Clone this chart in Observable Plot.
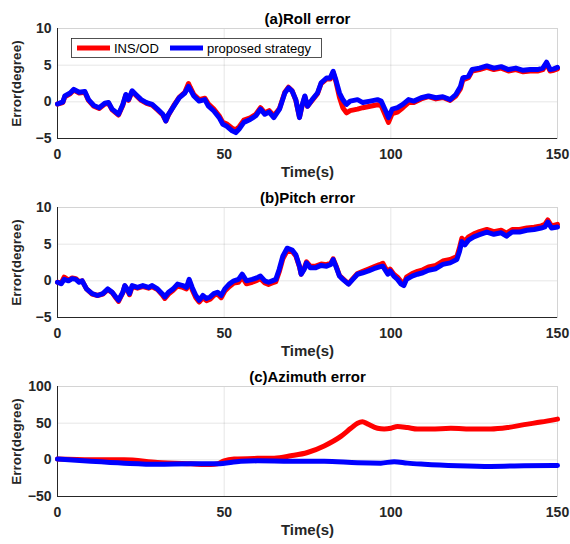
<!DOCTYPE html>
<html><head><meta charset="utf-8">
<script src="https://cdn.jsdelivr.net/npm/d3@7"></script>
<script src="https://cdn.jsdelivr.net/npm/@observablehq/plot@0.6"></script>
<style>
body{margin:0;background:#fff;}
#chart svg{display:block;}
</style>
</head><body><div id="chart"></div>
<script>
// ---------- data ----------
const xTicks = [0, 50, 100, 150];
const attTicks = [-5, 0, 5, 10];
const aziTicks = [-50, 0, 50, 100];
const seriesNames = ["INS/OD", "proposed strategy"];
const titles = ["(a)Roll error", "(b)Pitch error", "(c)Azimuth error"];

const rollTime = [0,1.6,2.2,3.8,4.9,6.5,8.2,9.3,10.9,12.5,
  14.2,15.3,16.4,18.3,19.6,20.5,21.3,22.4,23.5,25.1,
  26.7,28.4,30,31.6,32.5,33.3,34.9,36.5,38.2,39.3,
  39.8,40.9,42.5,44.2,45.3,46.9,48.5,49.6,50.7,52.4,
  53.5,54.5,55.9,57.8,59.5,60.9,62.2,63.5,64.9,66.6,
  68.2,69.3,70.4,71.5,72.6,73.3,74.2,75,76.4,78,
  79.1,80.7,81.8,82.7,83.5,84.6,85.6,86.7,87.8,90,
  91.6,93.8,96,97.1,98.7,99.3,100.4,102,103.6,105.3,
  106.9,109.1,111.3,113.5,115.6,117.8,119.5,120.9,121.6,123.3,
  124.4,126.6,128.8,130.9,133.1,135.3,137.5,139.7,141.8,144,
  145.6,146.7,147.8,148.9,150];
const rollInsOd = [-0.3,-0.1,0.7,1.1,1.6,1.2,1.3,0.2,-0.6,-0.9,
  -0.3,-0.2,-1.1,-1.8,-0.45,0.9,0.2,1.4,0.9,0.2,
  -0.2,-0.45,-1.1,-1.8,-2.6,-1.8,-0.5,0.6,1.3,2.5,
  2.0,1.0,0.3,0.5,-0.3,-1.0,-1.9,-2.8,-3.0,-3.6,
  -3.8,-3.4,-2.5,-2.2,-1.7,-0.8,-1.5,-1.2,-1.9,-0.9,
  1.3,2.0,1.5,0.2,-2.1,-0.7,0.7,-0.6,0.2,1.1,
  2.5,3.1,3.1,4.0,2.8,0.6,-0.8,-1.5,-1.2,-1.0,
  -0.8,-0.6,-0.4,-0.5,-2.2,-2.8,-1.6,-1.4,-0.8,-0.1,
  -0.1,0.4,0.7,0.4,0.6,0.2,0.8,1.8,3.0,3.3,
  4.2,4.4,4.7,4.4,4.6,4.2,4.4,4.1,4.2,4.2,
  4.4,5.2,4.2,4.3,4.5];
const rollProposed = [-0.3,0,0.8,1.2,1.7,1.3,1.4,0.3,-0.5,-0.8,
  -0.2,-0.1,-1.0,-1.7,-0.35,1.0,0.3,1.5,1.0,0.3,
  -0.1,-0.35,-1.0,-1.7,-2.6,-1.7,-0.6,0.55,1.2,2.1,
  1.7,0.8,0.1,0.3,-0.6,-1.25,-2.15,-3.05,-3.3,-3.95,
  -4.2,-3.7,-2.8,-2.4,-1.9,-1.0,-1.7,-1.4,-2.15,-1.0,
  1.2,1.9,1.45,0.3,-2.15,-0.6,0.8,-0.6,0.3,1.2,
  2.6,3.25,3.25,4.15,3.0,1.2,0.3,-0.35,0.1,0.3,
  -0.1,0.1,0.3,0.1,-1.5,-2.15,-1.0,-0.8,-0.35,0.3,
  0.1,0.55,0.8,0.55,0.7,0.3,1.0,2.1,3.25,3.5,
  4.4,4.6,4.9,4.6,4.8,4.4,4.6,4.3,4.4,4.4,
  4.6,5.4,4.4,4.5,4.7];

const pitchTime = [0,1.1,2,3.3,4.4,5.5,6.5,7.4,8.7,10.4,
  12,13.6,15.1,16.4,17.5,18.3,19.6,20.2,20.9,21.6,
  22.4,24,25.6,27.3,28.4,30,31.4,32.2,33.3,34.7,
  36,37.6,38.7,39.5,40.4,41.5,42.5,43.6,44.7,45.8,
  46.9,48,49.1,50.2,51.5,52.9,54.3,55.4,56.7,58.4,
  60,60.9,62.2,63.3,64.4,65.5,66.5,67.6,68.9,70.4,
  71.5,72.6,73.1,74,74.7,75.8,77.5,79.1,80.7,82,
  82.7,83.5,84.6,85.6,87.3,88.6,90,91.6,93.3,94.9,
  96.6,97.6,98.2,99.1,99.8,100.9,102,103.1,103.9,104.7,
  106.4,108,109.6,111.3,113.5,115.6,117.8,119.8,120.6,121.3,
  122.2,123.3,124.9,126.6,128.8,130.9,133.1,134.7,136.4,138.6,
  140.8,143,145.1,146.2,147.1,148.2,150];
const pitchInsOd = [-0.2,-0.3,0.5,0.1,0.4,0.3,-0.1,0,-1.1,-1.8,
  -2.0,-1.8,-1.2,-1.6,-2.3,-2.8,-1.6,-0.7,-1.2,-1.9,
  -0.8,-1.0,-0.8,-1.0,-0.8,-1.2,-1.9,-2.4,-1.8,-1.3,
  -0.7,-0.9,-1.1,0.0,-1.2,-2.3,-2.9,-2.3,-2.7,-2.5,
  -2.0,-1.8,-2.3,-1.4,-0.8,-0.3,-0.2,0.5,-0.4,-0.2,
  0.1,0.3,-0.3,-0.5,-0.3,-0.1,1.2,3.0,4.1,4.0,
  3.4,1.9,0.9,1.7,2.6,2.0,2.0,2.3,2.2,2.4,
  3.0,2.1,0.7,0.3,-0.4,0.3,1.0,1.3,1.6,1.9,
  2.2,2.4,1.9,1.2,1.6,0.9,0.5,-0.1,-0.4,0.5,
  1.0,1.3,1.5,1.9,2.1,2.7,2.9,3.3,4.5,5.8,
  5.4,6.0,6.4,6.7,7.0,6.7,6.9,6.5,7.0,7.0,
  7.2,7.3,7.5,7.7,8.3,7.5,7.7];
const pitchProposed = [-0.2,-0.4,0.2,0,0.3,0.2,-0.2,0,-1.1,-1.75,
  -2.0,-1.75,-1.1,-1.55,-2.2,-2.65,-1.55,-0.65,-1.1,-1.75,
  -0.65,-0.9,-0.65,-0.9,-0.65,-1.1,-1.75,-2.2,-1.55,-1.1,
  -0.45,-0.65,-0.9,0.2,-0.9,-2.0,-2.65,-2.0,-2.4,-2.2,
  -1.75,-1.55,-2.0,-1.1,-0.45,0,0.2,0.9,0,0.2,
  0.45,0.65,0,-0.2,0,0.2,1.55,3.35,4.45,4.2,
  3.55,2.0,0.9,1.55,2.45,1.8,1.8,2.1,2.0,2.25,
  2.9,2.0,0.65,0.2,-0.45,0.2,0.9,1.1,1.35,1.65,
  1.9,2.0,1.55,0.9,1.35,0.65,0.2,-0.45,-0.65,0.2,
  0.65,0.9,1.1,1.45,1.65,2.25,2.45,2.9,4.0,5.35,
  4.9,5.55,6.0,6.3,6.65,6.35,6.55,6.1,6.65,6.65,
  6.9,7.0,7.2,7.35,8.0,7.2,7.35];

const aziTimeInsOd = [0,10,20,30,40,46,48,50,53,60,65,70,75,80,85,88,90,91.5,93,96,98,100,102,105,108,112,118,125,130,135,140,145,150];
const aziInsOd = [1,0,0,-3.6,-5.5,-6.5,-5.5,-1.4,1,2,2.3,5.5,10,19,32,43,50,52,49,43,42,43,45.5,44,42,42,43,42,42,44,48,51.5,55.5];
const aziTimeProposed = [0,10,20,30,40,48,55,60,70,80,90,97,101,105,110,120,130,140,150];
const aziProposed = [1,-2,-4.5,-6,-5.5,-5.5,-2,-1.4,-2,-2,-4,-4.5,-2.5,-4.5,-6,-8,-9,-8,-7.7];

// ---------- chart ----------
const FONT = "'Liberation Sans', Arial, Helvetica, sans-serif";
const INK = "#262626";
const RED = "#ff0000", BLUE = "#0000ff";

function toRows(ts, vs) { return ts.map((t, i) => ({t, v: vs[i]})); }

function panel({title, yDomain, yTicks, red, blue, height, curve}) {
  return Plot.plot({
    width: 570, height,
    marginLeft: 57, marginRight: 13, marginTop: 28, marginBottom: height - 28 - 110,
    style: {fontFamily: FONT, fontWeight: "bold", background: "#fff", color: INK, overflow: "visible"},
    x: {domain: [0, 150]},
    y: {domain: yDomain},
    marks: [
      Plot.gridX(xTicks, {stroke: "#000", strokeOpacity: 0.1}),
      Plot.gridY(yTicks, {stroke: "#000", strokeOpacity: 0.1}),
      Plot.frame({stroke: "#d4d4d4"}),
      Plot.ruleX([0], {stroke: INK, strokeWidth: 1}),
      Plot.ruleY([yDomain[0]], {stroke: INK, strokeWidth: 1}),
      Plot.axisX(xTicks, {tickSize: 0, tickPadding: 11, label: null, fontSize: 14, fontWeight: "bold", fill: INK}),
      Plot.axisY(yTicks, {tickSize: 0, tickPadding: 6, label: null, fontSize: 14, fontWeight: "bold", fill: INK}),
      Plot.lineY(red, {x: "t", y: "v", stroke: RED, strokeWidth: 5, curve, strokeLinejoin: "round"}),
      Plot.lineY(blue, {x: "t", y: "v", stroke: BLUE, strokeWidth: 5, curve, strokeLinejoin: "round"}),
      Plot.text([title], {text: d => d, frameAnchor: "top", dy: -15, fontSize: 15, fontWeight: "bold", fill: "#000"}),
      Plot.text(["Time(s)"], {text: d => d, frameAnchor: "bottom", dy: 38, fontSize: 15, fontWeight: "bold", fill: INK}),
      Plot.text(["Error(degree)"], {text: d => d, frameAnchor: "left", textAnchor: "middle", dx: -41, rotate: -90, fontSize: 13.5, fontWeight: "bold", fill: INK})
    ]
  });
}

const chart = document.getElementById("chart");
const svgA = panel({title: titles[0], yDomain: [-5, 10], yTicks: attTicks,
  red: toRows(rollTime, rollInsOd), blue: toRows(rollTime, rollProposed), height: 179, curve: "linear"});
const svgB = panel({title: titles[1], yDomain: [-5, 10], yTicks: attTicks,
  red: toRows(pitchTime, pitchInsOd), blue: toRows(pitchTime, pitchProposed), height: 179, curve: "linear"});
const svgC = panel({title: titles[2], yDomain: [-50, 100], yTicks: aziTicks,
  red: toRows(aziTimeInsOd, aziInsOd), blue: toRows(aziTimeProposed, aziProposed), height: 186, curve: "monotone-x"});
chart.append(svgA, svgB, svgC);

// legend inside panel (a)
const lg = d3.select(svgA).append("g")
  .attr("font-family", FONT).attr("font-size", 13).attr("font-weight", "normal").attr("text-anchor", "start");
lg.append("rect").attr("x", 71.5).attr("y", 38.5).attr("width", 250).attr("height", 19)
  .attr("fill", "#fff").attr("stroke", INK).attr("stroke-width", 0.8);
const items = [{name: seriesNames[0], color: RED, x: 77}, {name: seriesNames[1], color: BLUE, x: 170}];
items.forEach(it => {
  lg.append("line").attr("x1", it.x).attr("x2", it.x + 33).attr("y1", 48).attr("y2", 48)
    .attr("stroke", it.color).attr("stroke-width", 5);
  lg.append("text").attr("x", it.x + 37).attr("y", 48).attr("dy", "0.35em")
    .attr("text-anchor", "start").attr("fill", "#000").text(it.name);
});
</script>
</body></html>
